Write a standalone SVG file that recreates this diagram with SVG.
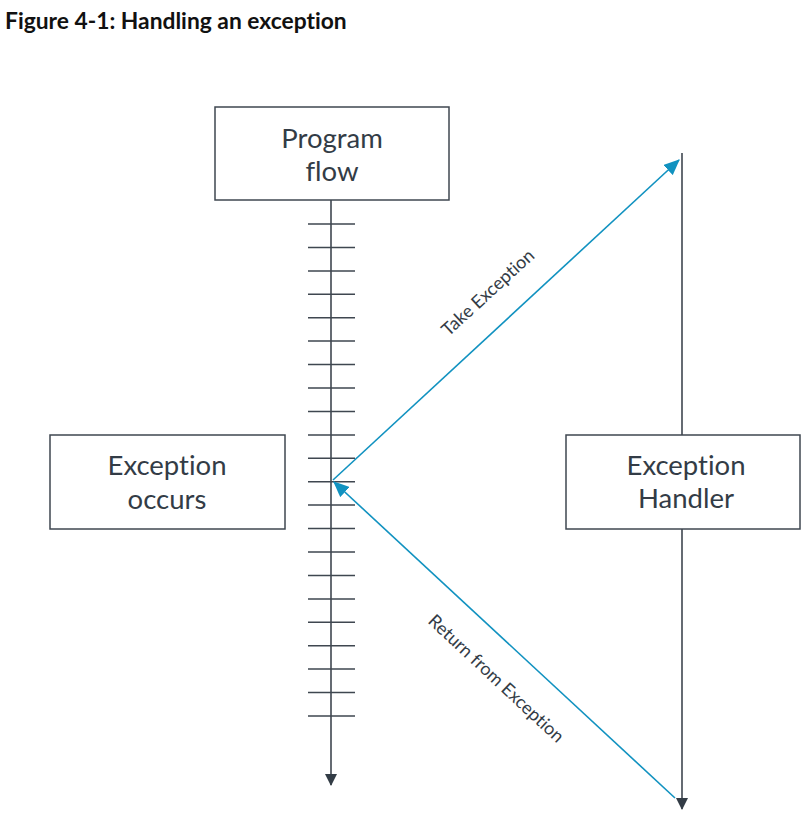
<svg xmlns="http://www.w3.org/2000/svg" width="808" height="832" viewBox="0 0 808 832">
<style>
text{font-variant-ligatures:none;font-feature-settings:"liga" 0}
.box{fill:#fff;stroke:#3f4750;stroke-width:1.5}
.lbl{font-family:Lato,"Open Sans",sans-serif;font-size:27.5px;fill:#333c46;text-anchor:middle}
.tick{stroke:#3f4750;stroke-width:1.5}
.flow{stroke:#3f4750;stroke-width:1.6;fill:none}
.blue{stroke:#1192c0;stroke-width:1.6;fill:none}
.edge{font-family:Lato,"Open Sans",sans-serif;font-size:18px;fill:#333c46;text-anchor:middle}
</style>
<defs>
<marker id="ah" viewBox="0 0 12 12" refX="11" refY="6" markerWidth="12" markerHeight="12" markerUnits="userSpaceOnUse" orient="auto"><path d="M0,0 L12,6 L0,12 Z" fill="#333c46"/></marker>
<marker id="bh" viewBox="0 0 14 12" refX="13" refY="6" markerWidth="16" markerHeight="14" markerUnits="userSpaceOnUse" orient="auto"><path d="M0,0 L14,6 L0,12 Z" fill="#1192c0"/></marker>
</defs>
<rect width="808" height="832" fill="#fff"/>
<text x="5" y="29" font-family="Lato,'Open Sans',sans-serif" font-size="22.8" font-weight="bold" fill="#111">Figure 4-1: Handling an exception</text>
<g id="connectors">
<line class="flow" x1="331" y1="200" x2="331" y2="785" marker-end="url(#ah)"/>
<line class="flow" x1="682" y1="153" x2="682" y2="809" marker-end="url(#ah)"/>
<g id="ticks">
<path class="tick" d="M308,224H355M308,247.4H355M308,270.9H355M308,294.3H355M308,317.7H355M308,341.1H355M308,364.6H355M308,388H355M308,411.4H355M308,434.9H355M308,458.3H355M308,481.7H355M308,505.1H355M308,528.6H355M308,552H355M308,575.4H355M308,598.9H355M308,622.3H355M308,645.7H355M308,669.1H355M308,692.6H355M308,716H355"/>
</g>
<line class="blue" x1="333" y1="480" x2="679" y2="160" marker-end="url(#bh)"/>
<line class="blue" x1="675" y1="798" x2="334" y2="482" marker-end="url(#bh)"/>
<text class="edge" transform="translate(492,297) rotate(-42.5)">Take Exception</text>
<text class="edge" transform="translate(492,683) rotate(43)">Return from Exception</text>
</g>
<g id="program-flow">
<rect class="box" x="215" y="107" width="234" height="93"/>
<text class="lbl" x="332" y="148">Program</text>
<text class="lbl" x="332" y="181">flow</text>
</g>
<g id="exception-occurs">
<rect class="box" x="50" y="435" width="235" height="94"/>
<text class="lbl" x="167" y="475">Exception</text>
<text class="lbl" x="167" y="509">occurs</text>
</g>
<g id="exception-handler">
<rect class="box" x="566" y="435" width="234" height="94"/>
<text class="lbl" x="686" y="475">Exception</text>
<text class="lbl" x="686" y="508">Handler</text>
</g>
</svg>
